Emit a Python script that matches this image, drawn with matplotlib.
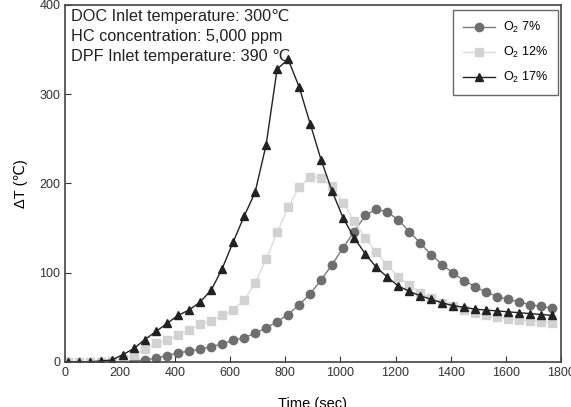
import numpy as np
import matplotlib.pyplot as plt

# Данные (шаг 40 с, начиная с 10 с)
time = np.arange(10, 1771, 40)

o2_7 = [0, 0, 0, 0, 0, 0, 1, 2, 4, 7, 10, 12, 14, 17, 20, 24, 27, 32, 38, 45,
        53, 64, 76, 92, 109, 128, 146, 164, 171, 168, 159, 146, 133, 120, 109,
        99, 91, 84, 78, 73, 70, 67, 64, 62, 60]
o2_12 = [0, 0, 0, 0, 1, 3, 8, 14, 21, 24, 30, 36, 42, 46, 52, 58, 69, 88, 115,
         145, 173, 196, 207, 206, 197, 178, 158, 139, 123, 108, 95, 86, 77, 71,
         66, 62, 58, 55, 52, 50, 48, 47, 46, 45, 44]
o2_17 = [0, 0, 0, 1, 2, 8, 15, 25, 34, 43, 52, 58, 67, 80, 104, 134, 163, 190,
         243, 328, 339, 308, 267, 226, 191, 161, 139, 121, 106, 95, 85, 79, 74,
         70, 66, 63, 61, 59, 58, 57, 56, 55, 54, 53, 52]

labels = ['O$_2$ 7%', 'O$_2$ 12%', 'O$_2$ 17%']
notes = ['DOC Inlet temperature: 300\u2103',
         'HC concentration: 5,000 ppm',
         'DPF Inlet temperature: 390 \u2103']

plt.rcParams['font.family'] = ['Liberation Sans', 'DejaVu Sans']
plt.rcParams['mathtext.fontset'] = 'custom'
plt.rcParams['mathtext.rm'] = 'Liberation Sans'

fig = plt.figure(figsize=(5.71, 4.07), dpi=100)
ax = fig.add_axes([0.114, 0.111, 0.868, 0.877])

ax.plot(time, o2_7, '-o', color='#7a7a7a', mfc='#6e6e6e', mec='#6e6e6e',
        ms=6, lw=1, label=labels[0])
ax.plot(time, o2_12, '-s', color='#dcdcdc', mfc='#d2d2d2', mec='#d2d2d2',
        ms=5.5, lw=1, label=labels[1])
ax.plot(time, o2_17, '-^', color='#222222', mfc='#222222', mec='#222222',
        ms=6, lw=1, label=labels[2])

ax.set_xlim(0, 1800)
ax.set_ylim(0, 400)
ax.set_xticks(np.arange(0, 1801, 200))
ax.set_yticks(np.arange(0, 401, 100))
ax.tick_params(direction='in', labelsize=9, colors='#333333', length=4)
for s in ax.spines.values():
    s.set_color('#444444')
    s.set_linewidth(1.2)

ax.set_xlabel('Time (sec)', fontsize=10.5, labelpad=13)
ax.set_ylabel('\u0394T (\u2103)', fontsize=10.5, labelpad=8)

for i, t in enumerate(notes):
    ax.text(0.012, 0.988 - i * 0.056, t, transform=ax.transAxes,
            fontsize=11.7, va='top', ha='left', color='#222222')

leg = ax.legend(loc='upper right', fontsize=9, frameon=True, fancybox=False,
                edgecolor='#444444', labelspacing=0.8, handlelength=2.6,
                handletextpad=0.6, borderpad=0.8, borderaxespad=0,
                bbox_to_anchor=(0.994, 0.986))
leg.get_frame().set_linewidth(1.0)

fig.savefig('out.png', dpi=100)
